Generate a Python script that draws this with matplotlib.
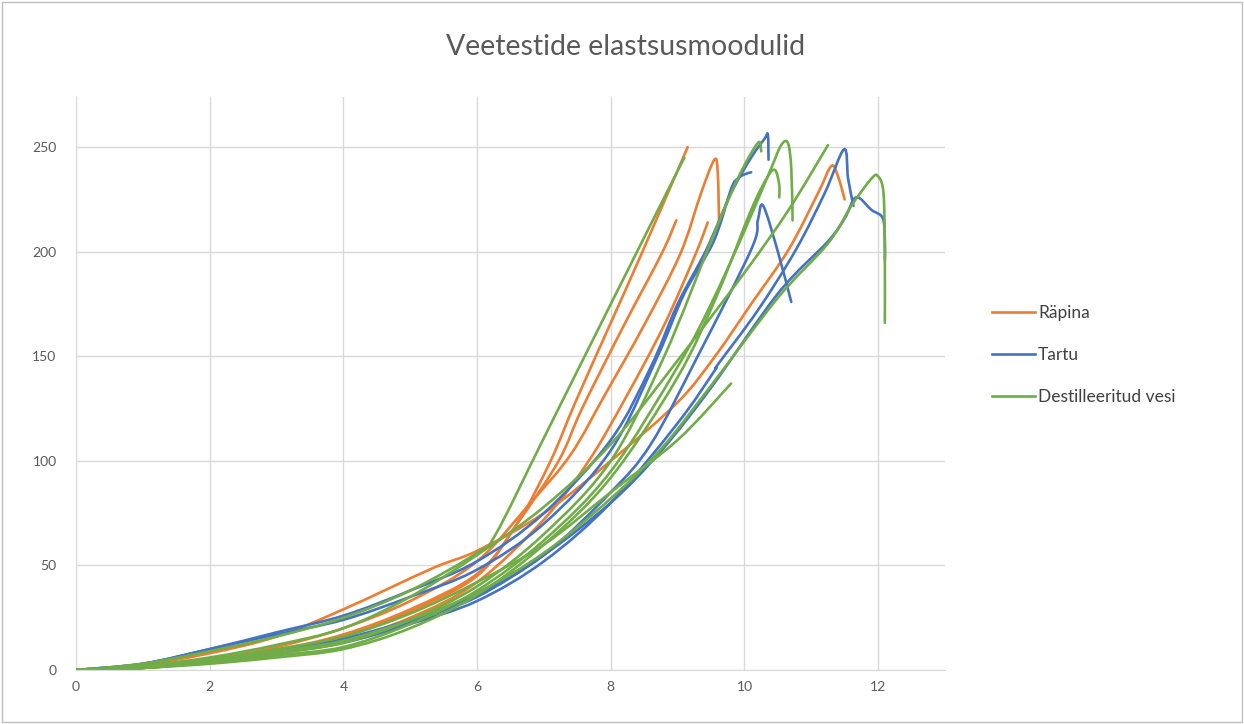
import matplotlib
matplotlib.use("Agg")
import matplotlib.pyplot as plt
from matplotlib.patches import Rectangle, PathPatch
from matplotlib.path import Path
from matplotlib.lines import Line2D

# Excel-like colours
orange = "#ED7D31"
blue = "#4472C4"
green = "#70AD47"

# Räpina curves (x, y)
rapina_x = [
    [0, 1, 2, 3, 4, 5, 6, 6.6, 7.1, 7.47, 8, 8.46, 9.15],
    [0, 1, 2, 3, 4, 5, 6, 6.8, 7.4, 7.92, 8.5, 9.04, 9.35, 9.55, 9.6, 9.62],
    [0, 1, 2, 3, 4, 5, 6, 6.6, 7.22, 7.57, 8.2, 8.76, 8.98],
    [0, 1, 2, 3, 4, 5, 6, 7, 7.67, 8.22, 8.8, 9.27, 9.45],
    [0, 1, 2, 3, 4, 5.33, 6, 7, 8, 9, 9.56, 10.1, 10.66, 11.1, 11.3, 11.4, 11.5],
]
rapina_y = [
    [0, 1.2, 4.5, 9.5, 17, 29, 46, 70, 100, 128, 166, 199, 250],
    [0, 1.2, 5, 11, 20, 33, 52, 80, 103, 132, 165, 199, 228, 244, 238, 214],
    [0, 1, 4, 9, 16, 28, 45, 70, 100, 125, 165, 199, 215],
    [0, 1, 4, 8, 14, 25, 42, 72, 100, 130, 165, 199, 214],
    [0, 2.5, 8, 16, 29, 48.6, 57, 75, 100, 128, 150, 175, 201, 228, 241, 236, 225],
]

# Tartu curves
tartu_x = [
    [0, 1, 2, 3, 4, 5, 6, 7, 8, 8.6, 9.0, 9.43, 9.8, 10.1, 10.3, 10.35, 10.36],
    [0, 1, 2, 3, 4, 5, 6, 7, 8, 8.7, 9.1, 9.54, 9.8, 9.9, 10.0, 10.1],
    [0, 1, 2, 3, 4, 5, 6, 7, 8, 8.6, 9.3, 10.1, 10.2, 10.28, 10.5, 10.7],
    [0, 1, 2, 3, 4, 5, 6, 7, 8, 9, 9.55, 9.6, 10.2, 10.77, 11.2, 11.49, 11.55, 11.63],
    [0, 1, 2, 3, 4, 5, 6, 7, 8, 8.76, 9.5, 10.5, 11.25, 11.5, 11.67, 11.9, 12.07, 12.1, 12.1],
]
tartu_y = [
    [0, 3, 10, 18, 26, 38, 52, 75, 110, 145, 175, 201, 228, 245, 254, 256, 244],
    [0, 3, 10, 17, 24, 35, 48, 70, 105, 150, 180, 205, 230, 235, 237, 238],
    [0, 1.5, 5, 9, 15, 24, 36, 55, 85, 108, 150, 201, 215, 222, 200, 176],
    [0, 1, 4, 8, 13, 22, 33, 52, 80, 118, 143, 146, 172, 201, 228, 249, 235, 222],
    [0, 1.5, 5, 9, 14, 23, 35, 55, 80, 105, 135, 180, 205, 216, 226, 220, 216, 205, 196],
]

# Destilleeritud vesi curves
vesi_x = [
    [0, 1, 2, 3, 4, 5, 6, 6.28, 7, 8, 9.1],
    [0, 1, 2, 3, 4, 5, 6, 7, 8, 8.8, 9.5, 9.9, 10.2, 10.25],
    [0, 1, 2, 3, 4, 5, 6, 7, 8, 9, 9.5, 10, 10.4, 10.55, 10.65, 10.7, 10.72],
    [0, 1, 2, 3, 4, 5, 6, 7, 8, 9, 9.6, 10.1, 10.35, 10.46, 10.52, 10.52],
    [0, 1, 2, 3, 4, 5, 6, 7, 8, 9, 10, 10.66, 11.25],
    [0, 1, 2, 3, 4, 5, 6, 7, 8, 8.76, 9.5, 10.5, 11.25, 11.6, 11.9, 12.0, 12.08, 12.1, 12.1],
    [0, 1, 2, 3, 4, 5, 6, 7, 8, 9, 9.8],
]
vesi_y = [
    [0, 3, 9, 16, 25, 38, 56, 65, 111, 175, 245],
    [0, 1, 4, 8, 13, 24, 40, 65, 100, 150, 205, 235, 252, 248],
    [0, 1, 3.5, 7, 11, 22, 38, 62, 95, 145, 175, 210, 240, 251, 252, 240, 215],
    [0, 1, 3, 6, 10, 20, 36, 60, 92, 140, 180, 220, 236, 239, 232, 226],
    [0, 2, 6, 12, 20, 35, 55, 78, 108, 148, 190, 220, 251],
    [0, 1.5, 5, 9, 14, 24, 37, 56, 82, 106, 136, 178, 204, 222, 235, 236, 228, 200, 166],
    [0, 1.5, 5, 10, 16, 27, 42, 60, 85, 110, 137],
]

groups = [
    ("Räpina", orange, rapina_x, rapina_y),
    ("Tartu", blue, tartu_x, tartu_y),
    ("Destilleeritud vesi", green, vesi_x, vesi_y),
]


def smooth_path(xs, ys):
    # Excel style smoothed line: Catmull-Rom segments drawn as cubic Beziers
    pts = list(zip(xs, ys))
    n = len(pts)
    verts = [pts[0]]
    codes = [Path.MOVETO]
    for i in range(n - 1):
        p0 = pts[max(i - 1, 0)]
        p1 = pts[i]
        p2 = pts[i + 1]
        p3 = pts[min(i + 2, n - 1)]
        c1 = (p1[0] + (p2[0] - p0[0]) / 6, p1[1] + (p2[1] - p0[1]) / 6)
        c2 = (p2[0] - (p3[0] - p1[0]) / 6, p2[1] - (p3[1] - p1[1]) / 6)
        verts += [c1, c2, p2]
        codes += [Path.CURVE4] * 3
    return Path(verts, codes)


plt.rcParams['font.family'] = ['Lato', 'DejaVu Sans']

fig = plt.figure(figsize=(12.44, 7.24), dpi=100)
ax = fig.add_axes([76 / 1244, 1 - 670 / 724, (945 - 76) / 1244, (670 - 97) / 724])

handles = []
for name, col, xs, ys in groups:
    for i in range(len(xs)):
        ax.add_patch(PathPatch(smooth_path(xs[i], ys[i]), fill=False, edgecolor=col,
                               lw=1.9, capstyle='round', joinstyle='round'))
    handles.append(Line2D([], [], color=col, lw=1.9, label=name))

ax.set_xlim(0, 13)
ax.set_ylim(0, 274)
ax.set_xticks([0, 2, 4, 6, 8, 10, 12])
ax.set_yticks([0, 50, 100, 150, 200, 250])
ax.grid(True, color="#D9D9D9", lw=1)
ax.set_axisbelow(True)
for s in ['top', 'right', 'left']:
    ax.spines[s].set_visible(False)
ax.spines['bottom'].set_color("#D9D9D9")
ax.tick_params(length=0, colors="#595959", labelsize=10, pad=8)
ax.tick_params(axis='y', pad=14)

fig.suptitle("Veetestide elastsusmoodulid", x=626 / 1244, y=1 - 47 / 724, va='center',
             fontsize=20.5, color="#595959")

ax.legend(handles=handles, loc='center left', bbox_to_anchor=(992 / 1244, 1 - 355 / 724),
          bbox_transform=fig.transFigure, frameon=False, fontsize=12.5,
          handlelength=2.5, handletextpad=0.15, labelspacing=1.5,
          borderaxespad=0, borderpad=0, labelcolor="#404040")

fig.patches.append(Rectangle((2 / 1244, 2 / 724), 1 - 4 / 1244, 1 - 4 / 724,
                             transform=fig.transFigure, fill=False,
                             edgecolor="#BFBFBF", lw=1))

fig.savefig("out.png", dpi=100, facecolor="white")
